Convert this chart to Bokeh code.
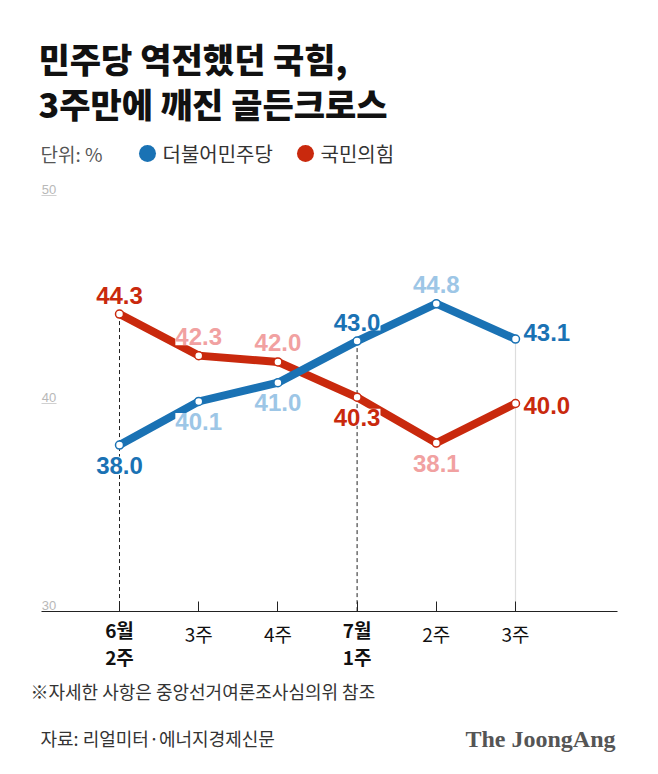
from bokeh.plotting import figure
from bokeh.models import Range1d, Label, LinearAxis, FixedTicker, ColumnDataSource
from bokeh.core.properties import value
from bokeh.embed import file_html
from bokeh.resources import INLINE

# ---------------- data ----------------
weeks = ["6월\n2주", "3주", "4주", "7월\n1주", "2주", "3주"]
democratic = [38.0, 40.1, 41.0, 43.0, 44.8, 43.1]      # 더불어민주당
ppp = [44.3, 42.3, 42.0, 40.3, 38.1, 40.0]             # 국민의힘
y_ticks = [30, 40, 50]
highlight = [0, 3, 5]          # weeks whose values are emphasised
guide_weeks = [0, 3]           # dashed guides
last_week = 5

title_lines = ["민주당 역전했던 국힘,", "3주만에 깨진 골든크로스"]
unit_text = "단위: %"
series_names = ["더불어민주당", "국민의힘"]
footnote = "※자세한 사항은 중앙선거여론조사심의위 참조"
source = "자료: 리얼미터·에너지경제신문"
logo = "The JoongAng"

# ---------------- style ----------------
BLUE = "#1a72b4"
RED = "#c9290d"
LIGHT_BLUE = "#9dc6e6"
PINK = "#f1a1a1"
KR = "Noto Sans CJK KR"
KR_HEAVY = "'Noto Sans CJK KR Black', 'Noto Sans CJK KR'"
NUM = "Liberation Sans"

W, H = 658, 774
AXIS_L, AXIS_R, AXIS_Y = 41, 617, 611      # pixel geometry of the chart axis
X0_PX, X_STEP = 119.0, 79.2                # pixel of week 0, pixels per week
Y_PX_PER_UNIT = 20.8

def px_x(px):
    return (px - X0_PX) / X_STEP

def px_y(py):
    return y_ticks[0] + (AXIS_Y - py) / Y_PX_PER_UNIT

p = figure(width=W, height=H, output_backend="svg", toolbar_location=None,
           x_range=Range1d(px_x(0), px_x(W)),
           y_range=Range1d(px_y(H), px_y(0)),
           x_axis_location=None, y_axis_location=None,
           min_border=0)
p.outline_line_color = None
p.grid.visible = False
p.background_fill_color = "white"
p.border_fill_color = "white"

# ---------------- x axis ----------------
idx = list(range(len(weeks)))
xaxis = LinearAxis(ticker=FixedTicker(ticks=idx), fixed_location=y_ticks[0],
                   bounds=(px_x(AXIS_L), px_x(AXIS_R)))
xaxis.major_label_overrides = {i: ("" if "\n" in w else w) for i, w in zip(idx, weeks)}
xaxis.axis_line_color = "#222222"
xaxis.axis_line_width = 1.2
xaxis.major_tick_line_color = "#222222"
xaxis.major_tick_in = 10
xaxis.major_tick_out = 0
xaxis.minor_tick_line_color = None
xaxis.major_label_standoff = 8
xaxis.major_label_text_font = KR
xaxis.major_label_text_font_size = "19px"
xaxis.major_label_text_color = "#111111"
p.add_layout(xaxis, "below")

for i, w in zip(idx, weeks):
    if "\n" in w:
        for k, part in enumerate(w.split("\n")):
            p.add_layout(Label(x=i, y=y_ticks[0], text=part, text_align="center",
                               text_baseline="middle", y_offset=-(18 + 27 * k),
                               text_font=KR, text_font_size="19px",
                               text_font_style="bold", text_color="#111111"))

# ---------------- y tick labels with short stubs ----------------
stub_len = px_x(56) - px_x(AXIS_L)
for t in y_ticks[1:]:
    p.segment(x0=[px_x(AXIS_L)], y0=[t], x1=[px_x(AXIS_L) + stub_len], y1=[t],
              line_color="#d0d0d0", line_width=1.2)
p.text(x=[px_x(48.5)] * len(y_ticks), y=y_ticks, text=[str(t) for t in y_ticks],
       text_align="center", text_baseline="bottom", y_offset=-2,
       text_font=value(NUM), text_font_size="13px", text_color="#b8b8b8")

# ---------------- guides ----------------
p.segment(x0=guide_weeks, y0=[max(democratic[i], ppp[i]) for i in guide_weeks],
          x1=guide_weeks, y1=[y_ticks[0]] * len(guide_weeks),
          line_color="#222222", line_width=1, line_dash="4 3")
p.segment(x0=[last_week], y0=[max(democratic[last_week], ppp[last_week])],
          x1=[last_week], y1=[y_ticks[0]], line_color="#dddddd", line_width=1.2)

# ---------------- lines ----------------
p.line(idx, ppp, line_color=RED, line_width=8, line_join="miter")
p.line(idx, democratic, line_color=BLUE, line_width=8, line_join="miter")
p.scatter(idx, ppp, size=8, fill_color="white", line_color=RED, line_width=1.5)
p.scatter(idx, democratic, size=8, fill_color="white", line_color=BLUE, line_width=1.5)

# ---------------- value labels ----------------
def label_source(vals, strong, light, places):
    xs, ys, txt, col, xo, yo, al = [], [], [], [], [], [], []
    for i, v in enumerate(vals):
        xs.append(i); ys.append(v); txt.append(f"{v:.1f}")
        col.append(strong if i in highlight else light)
        pl = places[i]
        if pl == "above":
            xo.append(0); yo.append(-19); al.append("center")
        elif pl == "below":
            xo.append(0); yo.append(20); al.append("center")
        else:
            xo.append(8); yo.append(pl); al.append("left")
    return ColumnDataSource(dict(x=xs, y=ys, t=txt, c=col, xo=xo, yo=yo, a=al))

blue_src = label_source(democratic, BLUE, LIGHT_BLUE,
                        ["below", "below", "below", "above", "above", -7])
red_src = label_source(ppp, RED, PINK,
                       ["above", "above", "above", "below", "below", 2])
for src in (red_src, blue_src):
    p.text(x="x", y="y", text="t", source=src, text_color="c",
           x_offset="xo", y_offset="yo", text_align="a", text_baseline="middle",
           text_font=value(NUM), text_font_size="24px", text_font_style="bold",
           background_fill_color="white", padding=0)

# ---------------- titles / legend / notes ----------------
for k, line in enumerate(title_lines):
    p.add_layout(Label(x=px_x(38), y=px_y(58 + 45 * k), text=line,
                       text_baseline="middle", text_font=KR_HEAVY,
                       text_font_size="34px", text_font_style="bold",
                       text_color="#111111"))

p.add_layout(Label(x=px_x(40), y=px_y(153), text=unit_text, text_baseline="middle",
                   text_font=KR, text_font_size="19px", text_color="#555555"))
p.scatter([px_x(147), px_x(305)], [px_y(153), px_y(153)], size=17,
          fill_color=[BLUE, RED], line_color=None)
for xpx, name in zip([162, 320], series_names):
    p.add_layout(Label(x=px_x(xpx), y=px_y(153), text=name, text_baseline="middle",
                       text_font=KR, text_font_size="20px", text_color="#333333"))

p.add_layout(Label(x=px_x(30), y=px_y(690), text=footnote, text_baseline="middle",
                   text_font=KR, text_font_size="18px", text_color="#333333"))
p.add_layout(Label(x=px_x(40), y=px_y(737), text=source, text_baseline="middle",
                   text_font=KR, text_font_size="18px", text_color="#333333"))
p.add_layout(Label(x=px_x(615), y=px_y(738), text=logo, text_baseline="middle",
                   text_align="right", text_font="Liberation Serif",
                   text_font_size="24px", text_font_style="bold",
                   text_color="#555555"))

open("out.html", "w").write(file_html(p, INLINE))
